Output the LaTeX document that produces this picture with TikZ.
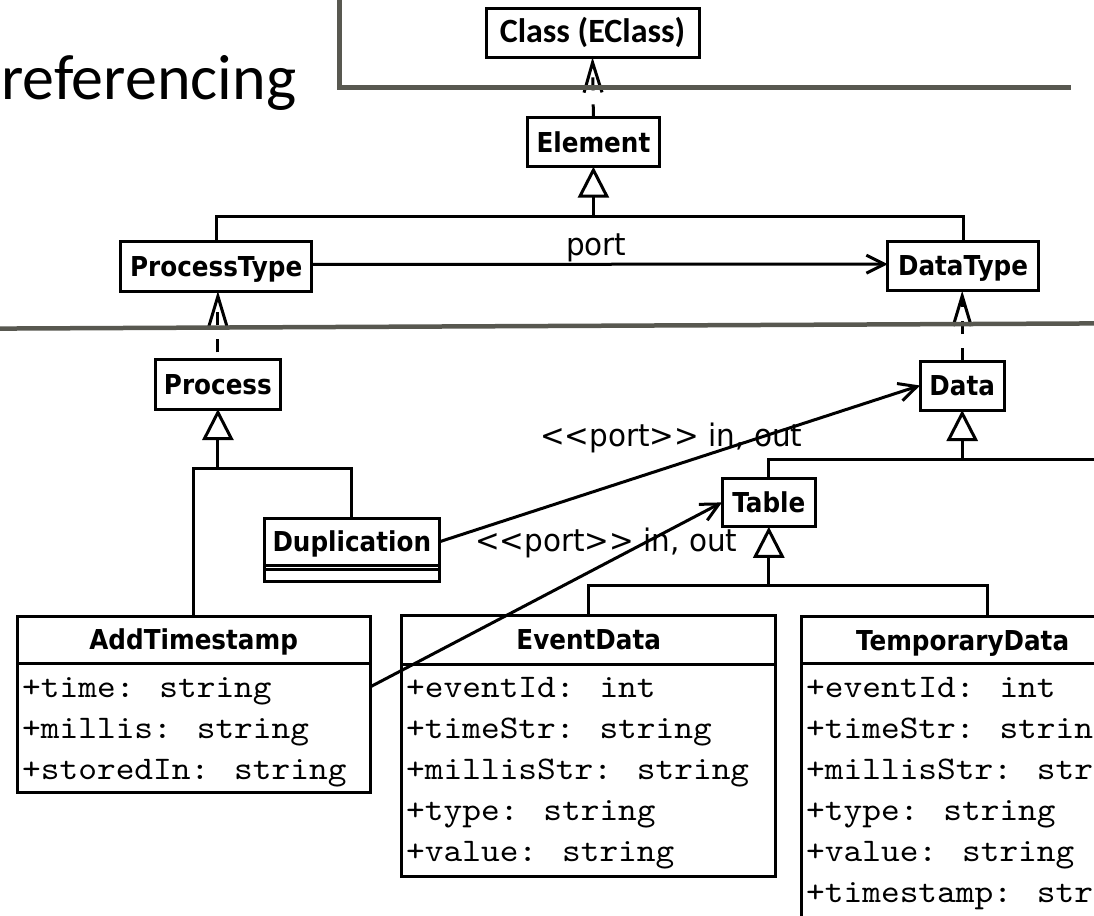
\documentclass[tikz,border=0pt]{standalone}
\usepackage{fontspec}
\usetikzlibrary{arrows.meta}
\newfontfamily\umlfamily[FakeStretch=0.9]{DejaVu Sans}
\newfontfamily\lblfamily[FakeStretch=0.95]{DejaVu Sans}
\newfontfamily\calfamily{Carlito}
\newfontfamily\attrfamily[FakeStretch=1.08]{lmmono10-regular.otf}
\definecolor{framegray}{RGB}{88,88,80}

\begin{document}
\begin{tikzpicture}[x=1pt,y=-1pt,
  clsname/.style={draw, line width=3pt, inner sep=0pt, outer sep=0pt, text height=20pt, text depth=0pt,
    font=\umlfamily\bfseries\fontsize{27.4}{30}\selectfont},
  compart/.style={draw, line width=3pt, inner sep=0pt, outer sep=0pt},
  attr/.style={anchor=base west, inner sep=0pt, font=\attrfamily\fontsize{33}{36}\selectfont},
  lbl/.style={inner sep=0pt, font=\lblfamily\fontsize{31}{34}\selectfont},
  conn/.style={line width=3pt},
  dep/.style={conn, dash pattern=on 13pt off 14pt, -{Straight Barb[length=30pt,width=18pt]}},
  assoc/.style={conn, -{Straight Barb[length=18pt,width=18pt]}},
  gen/.style={conn, -{Triangle[open,length=31pt,width=31pt]}},
  frameline/.style={line width=4.5pt, draw=framegray}]
\useasboundingbox (0,0) rectangle (1094,915);
\clip (0,0) rectangle (1094,915);

% slide heading
\node[anchor=base west, inner sep=0pt, font=\calfamily\fontsize{64}{70}\selectfont] (title) at (1,99.3) {referencing};

% meta level
\node[clsname, font=\calfamily\bfseries\fontsize{34}{36}\selectfont, minimum width=213pt, minimum height=49pt] (eclass) at (592.5,32.8) {Class (EClass)};
\node[clsname, minimum width=132pt, minimum height=49.4pt] (element) at (593.4,142) {Element};
\node[clsname, minimum width=191pt, minimum height=50pt] (ptype) at (216.2,266) {ProcessType};
\node[clsname, minimum width=150.6pt, minimum height=49.7pt] (dtype) at (963,265.9) {DataType};

% model level
\node[clsname, minimum width=125pt, minimum height=49.7pt] (process) at (217.9,384.2) {Process};
\node[clsname, minimum width=84.3pt, minimum height=49pt] (data) at (962.2,385.5) {Data};
\node[clsname, minimum width=93.6pt, minimum height=48.7pt] (table) at (768.8,502.4) {Table};

\node[clsname, minimum width=175pt, minimum height=47pt] (dup) at (351.8,541.8) {Duplication};
\node[compart, minimum width=175pt, minimum height=4pt, anchor=north] (dupattr) at (dup.south) {};
\node[compart, minimum width=175pt, minimum height=11.7pt, anchor=north] (dupops) at (dupattr.south) {};

% AddTimestamp
\node[clsname, minimum width=352.7pt, minimum height=46.3pt] (addts) at (193.65,639.85) {AddTimestamp};
\node[compart, minimum width=352.7pt, minimum height=129pt, anchor=north] (addtsattr) at (addts.south) {};
\node[attr] (addts1) at (22,697) {+time: string};
\node[attr] (addts2) at (22,738) {+millis: string};
\node[attr] (addts3) at (22,779) {+storedIn: string};

% EventData
\node[clsname, minimum width=374pt, minimum height=48.3pt] (evt) at (588.7,639.9) {EventData};
\node[compart, minimum width=374pt, minimum height=212.7pt, anchor=north] (evtattr) at (evt.south) {};
\node[attr] (evt1) at (406,697) {+eventId: int};
\node[attr] (evt2) at (406,738) {+timeStr: string};
\node[attr] (evt3) at (406,779) {+millisStr: string};
\node[attr] (evt4) at (406,820) {+type: string};
\node[attr] (evt5) at (406,861) {+value: string};

% TemporaryData (runs past the right edge)
\node[compart, minimum width=370.6pt, minimum height=46.3pt] (tmp) at (987,639.85) {};
\node[clsname, draw=none, anchor=base west] (tmpname) at (856,650) {TemporaryData};
\node[compart, minimum width=370.6pt, minimum height=290pt, anchor=north] (tmpattr) at (tmp.south) {};
\node[attr] (tmp1) at (806,697) {+eventId: int};
\node[attr] (tmp2) at (806,738) {+timeStr: string};
\node[attr] (tmp3) at (806,779) {+millisStr: string};
\node[attr] (tmp4) at (806,820) {+type: string};
\node[attr] (tmp5) at (806,861) {+value: string};
\node[attr] (tmp6) at (806,902) {+timestamp: string};

% instance-of dependencies
\draw[dep] (element.north) -- (eclass.south);
\draw[dep, dash phase=20pt] (process.north) -- (process.north |- ptype.south);
\draw[dep] (data.north) -- (data.north |- dtype.south);

% generalisation trees
\coordinate (genA) at (593.4,216.7);
\draw[conn] (ptype.north) -- (ptype.north |- genA) -- (dtype.north |- genA) -- (dtype.north);
\draw[gen] (genA) -- (element.south);

\coordinate (genP) at (217.9,468.3);
\draw[conn] (addts.north) -- (addts.north |- genP) -- (dup.north |- genP) -- (dup.north);
\draw[gen] (genP) -- (process.south);

\coordinate (genD) at (962.2,459.3);
\coordinate (genDend) at (1100,459.3);
\draw[conn] (table.north) -- (table.north |- genD) -- (genDend);
\draw[gen] (genD) -- (data.south);

\coordinate (genT) at (768.8,585);
\draw[conn] (evt.north) -- (evt.north |- genT) -- (tmp.north |- genT) -- (tmp.north);
\draw[gen] (genT) -- (table.south);

% associations
\draw[assoc] ([yshift=1.7pt]ptype.east) -- ([yshift=1.7pt]dtype.west);
\node[lbl, anchor=base] (portlbl) at (596.3,255) {port};

\draw[assoc] (dup.east) -- (data.west);
\node[lbl, anchor=base west] (duplbl) at (540,446.7) {\mbox{<}\mbox{<}port\mbox{>}\mbox{>} in, out};

\coordinate (addtsport) at (370,687);
\draw[assoc] (addtsport) -- (table.west);
\node[lbl, anchor=base west] (addlbl) at (475,551.7) {\mbox{<}\mbox{<}port\mbox{>}\mbox{>} in, out};

% slide frame lines on top
\coordinate (fA) at (339.3,-5);
\coordinate (fB) at (339.3,87.7);
\coordinate (fC) at (1071,87.7);
\draw[frameline] (fA) -- (fB) -- (fC);
\coordinate (mA) at (-5,328.6);
\coordinate (mB) at (1100,323.4);
\draw[frameline] (mA) -- (mB);
\end{tikzpicture}
\end{document}
